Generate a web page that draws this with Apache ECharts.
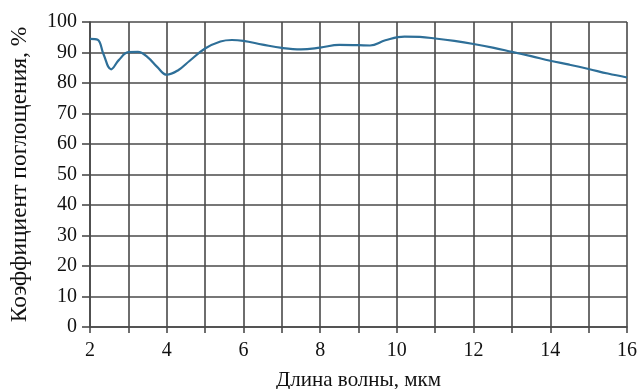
<!DOCTYPE html>
<html><head><meta charset="utf-8">
<script src="https://cdn.jsdelivr.net/npm/echarts@6/dist/echarts.min.js"></script>
<style>html,body{margin:0;padding:0;background:#fff}#c{width:643px;height:389px}</style>
</head><body><div id="c"></div>
<script>
const wavelength = [2.0,2.2,2.35,2.55,2.75,3.0,3.25,3.5,3.75,4.0,4.3,4.6,5.0,5.4,5.7,6.0,6.5,7.0,7.5,8.0,8.5,9.0,9.3,9.7,10.2,10.6,11.0,11.5,12.0,12.5,13.0,13.5,14.0,14.5,15.0,15.5,16.0];
const absorption = [94.5,94.2,89.5,84.5,87.5,90.1,90.2,88.5,85.3,82.7,84.2,87.3,91.3,93.6,94.1,93.8,92.6,91.5,91,91.6,92.5,92.4,92.3,94,95.2,95.1,94.6,93.8,92.8,91.6,90.2,88.8,87.3,86,84.6,83.1,81.8];
const xName = 'Длина волны, мкм';
const yName = 'Коэффициент поглощения, %';
const font = 'Liberation Serif';
const chart = echarts.init(document.getElementById('c'));
chart.setOption({
  animation:false,
  grid:{left:90,right:16,top:22,bottom:62,containLabel:false,outerBoundsMode:'none'},
  xAxis:{type:'value',min:2,max:16,interval:1,
    name:xName,nameLocation:'middle',nameGap:43,
    nameTextStyle:{fontFamily:font,fontSize:21,color:'#111'},
    axisLine:{show:true,lineStyle:{color:'#4a4a4a',width:1.6}},
    axisTick:{show:true,inside:false,length:6,lineStyle:{color:'#4a4a4a',width:1.6}},
    axisLabel:{fontFamily:font,fontSize:20,color:'#111',margin:14,
      formatter:v=> (Math.round(v)%2===0? String(v):'')},
    splitLine:{show:true,lineStyle:{color:'#4a4a4a',width:1.6}}},
  yAxis:{type:'value',min:0,max:100,interval:10,
    name:yName,nameLocation:'middle',nameGap:58,nameRotate:90,
    nameTextStyle:{fontFamily:font,fontSize:23.5,color:'#111'},
    axisLine:{show:true,lineStyle:{color:'#4a4a4a',width:1.6}},
    axisTick:{show:true,length:8,lineStyle:{color:'#4a4a4a',width:1.6}},
    axisLabel:{fontFamily:font,fontSize:20,color:'#111',margin:13},
    splitLine:{show:true,lineStyle:{color:'#4a4a4a',width:1.6}}},
  series:[{type:'line',data:wavelength.map((x,i)=>[x,absorption[i]]),
    smooth:0.4,showSymbol:false,lineStyle:{color:'#2e6f98',width:2.2}}]
});
</script></body></html>
